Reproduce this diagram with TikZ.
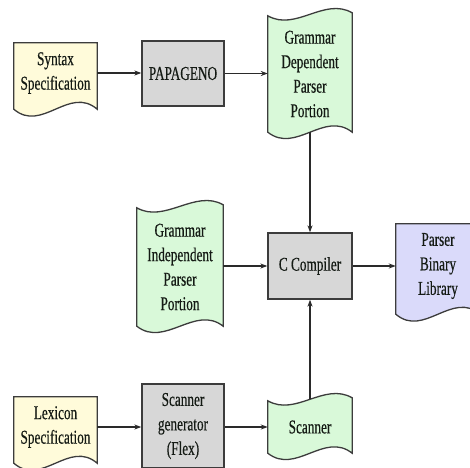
\documentclass[tikz,border=0pt]{standalone}
\usepackage{fontspec}
\setmainfont{Liberation Serif}[FakeStretch=0.68]
\newfontfamily\boxfont{Liberation Serif}[FakeStretch=0.68,FakeBold=0.4]
\usetikzlibrary{arrows.meta,backgrounds}
\definecolor{docyellow}{HTML}{FFFBDA}
\definecolor{procgray}{HTML}{D7D7D7}
\definecolor{tapegreen}{HTML}{D9F9D9}
\definecolor{outlav}{HTML}{DADAFA}
\definecolor{edgecol}{HTML}{3C3C3C}
\definecolor{arrcol}{HTML}{2A2A2A}
\definecolor{txtcol}{HTML}{141A14}
\newcommand\mkdoc[2]{\path[outline, fill=#2] (#1.north west) -- (#1.north east) -- ([yshift=-6pt]#1.south east) .. controls +(-28,24) and +(28,-24) .. ([yshift=-6pt]#1.south west) -- cycle;}
\newcommand\mktape[2]{\path[outline, fill=#2] (#1.north west) .. controls +(28,-16) and +(-28,16) .. ([yshift=3pt]#1.north east) -- (#1.south east) .. controls +(-28,22) and +(28,-22) .. (#1.south west) -- cycle;}
\begin{document}
\begin{tikzpicture}[x=1pt,y=1pt,
  lbl/.style={inner sep=0pt, align=center, font=\boxfont\fontsize{19.5}{24.5}\selectfont, text=txtcol},
  conn/.style={-{Stealth[length=7pt,width=5pt]}, line width=1.2pt, draw=arrcol},
  outline/.style={line width=1.3pt, draw=edgecol}]
\useasboundingbox (0,0) rectangle (470,467);
\clip (0,0) rectangle (470,467);
% nodes
\node[lbl, minimum width=83, minimum height=60] (syn) at (55.5,394) {Syntax\\Specification};
\node[lbl, minimum width=82, minimum height=65, outline, fill=procgray] (pap) at (183,393.5) {PAPAGENO};
\node[lbl, minimum width=84, minimum height=116] (gdp) at (310,393) {Grammar\\Dependent\\Parser\\Portion};
\node[lbl, minimum width=84, minimum height=66, outline, fill=procgray] (cc) at (310,201) {C Compiler};
\node[lbl, minimum width=86, minimum height=118] (gip) at (180,200) {Grammar\\Independent\\Parser\\Portion};
\node[lbl, minimum width=84, minimum height=84] (pbl) at (438,201) {Parser\\Binary\\Library};
\node[lbl, minimum width=83, minimum height=60] (lex) at (55.5,40) {Lexicon\\Specification};
\node[lbl, minimum width=82, minimum height=84, outline, fill=procgray] (sg) at (183,41) {Scanner\\generator\\(Flex)};
\node[lbl, minimum width=84, minimum height=52] (scn) at (310,40) {Scanner};
% shapes behind
\begin{scope}[on background layer]
\mkdoc{syn}{docyellow}
\mkdoc{lex}{docyellow}
\mkdoc{pbl}{outlav}
\mktape{gdp}{tapegreen}
\mktape{gip}{tapegreen}
\mktape{scn}{tapegreen}
\end{scope}
% connectors
\draw[conn] (syn.east) -- (syn.east -| pap.west);
\draw[conn] (pap.east) -- (pap.east -| gdp.west);
\draw[conn] (gdp.south) -- (cc.north);
\draw[conn] (gip.east |- cc.west) -- (cc.west);
\draw[conn] (cc.east) -- (cc.east -| pbl.west);
\draw[conn] (lex.east) -- (lex.east -| sg.west);
\draw[conn] (sg.east |- scn.west) -- (scn.west);
\draw[conn] ([yshift=1.5pt]scn.north) -- (cc.south);
\end{tikzpicture}
\end{document}
